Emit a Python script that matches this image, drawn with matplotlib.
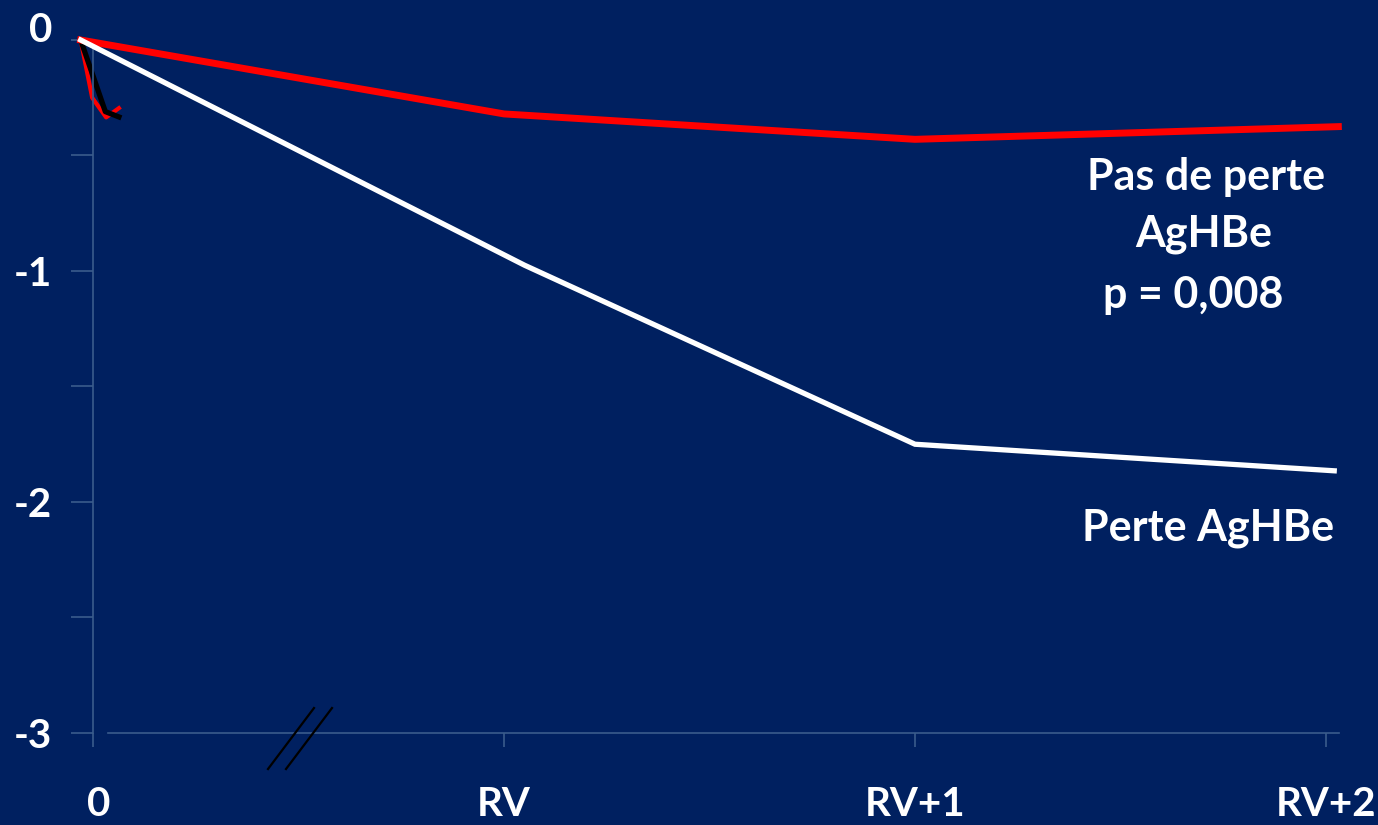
import matplotlib
matplotlib.use("Agg")
import matplotlib.pyplot as plt
from matplotlib.transforms import ScaledTranslation

# ---- data -------------------------------------------------------------
x_tick_pos = [0, 1, 2, 3]
x_tick_labels = ["0", "RV", "RV+1", "RV+2"]
y_major = [0, -1, -2, -3]
y_major_labels = ["0", "-1", "-2", "-3"]
y_minor = [-0.5, -1.5, -2.5]

# no loss of HBeAg (red) and loss of HBeAg (white)
no_loss_x = [-0.03, 1.0, 2.0, 3.03]
no_loss_y = [0.0, -0.32, -0.43, -0.375]
loss_x = [-0.03, 1.05, 2.0, 3.02]
loss_y = [0.0, -0.975, -1.75, -1.865]

# short early segments near the origin
early_black_x = [-0.03, 0.03, 0.063]
early_black_y = [0.0, -0.31, -0.333]
early_red_x = [-0.03, -0.002, 0.032, 0.063]
early_red_y = [0.0, -0.25, -0.335, -0.295]

# ---- style ------------------------------------------------------------
BG = "#002060"
AXIS = "#3A5C8C"
FONT = ["Lato", "DejaVu Sans"]

W, H = 1378, 825
fig = plt.figure(figsize=(W / 100, H / 100), dpi=100)
fig.patch.set_facecolor(BG)

# axes box in pixels: x 60..1350, y 20..760
ax = fig.add_axes([60 / W, (H - 760) / H, 1290 / W, 740 / H])
ax.set_facecolor(BG)
ax.set_xlim(-0.0803, 3.0584)
ax.set_ylim(-3.117, 0.0866)

for s in ("top", "right"):
    ax.spines[s].set_visible(False)
ax.spines["left"].set_position(("data", 0))
ax.spines["left"].set_bounds(-3, 0)
ax.spines["bottom"].set_position(("data", -3))
ax.spines["bottom"].set_bounds(0.0365, 3.0316)
for s in ("left", "bottom"):
    ax.spines[s].set_color(AXIS)
    ax.spines[s].set_linewidth(1.2)

ax.set_yticks(y_major)
ax.set_yticklabels(y_major_labels)
ax.set_yticks(y_minor, minor=True)
ax.set_xticks(x_tick_pos)
ax.set_xticklabels(x_tick_labels)

ax.tick_params(axis="y", which="both", direction="out", length=15.5,
               width=1.2, color=AXIS, pad=14)
ax.tick_params(axis="x", which="both", direction="out", length=10,
               width=1.2, color=AXIS, pad=28)
for lab in ax.get_xticklabels() + ax.get_yticklabels():
    lab.set_fontfamily(FONT)
    lab.set_fontweight("bold")
    lab.set_fontsize(29)
    lab.set_color("white")

# the origin labels sit slightly off their ticks
ylab0 = ax.get_yticklabels()[0]
ylab0.set_transform(ylab0.get_transform()
                    + ScaledTranslation(0, 13 / 100, fig.dpi_scale_trans))
xlab0 = ax.get_xticklabels()[0]
xlab0.set_transform(xlab0.get_transform()
                    + ScaledTranslation(6 / 100, 0, fig.dpi_scale_trans))

# ---- lines ------------------------------------------------------------
ax.plot(no_loss_x, no_loss_y, color="#FF0000", lw=5, solid_joinstyle="miter",
        clip_on=False, zorder=3)
ax.plot(loss_x, loss_y, color="white", lw=3.8, solid_joinstyle="miter",
        clip_on=False, zorder=4)
ax.plot(early_red_x, early_red_y, color="#FF0000", lw=3, clip_on=False, zorder=2)
ax.plot(early_black_x, early_black_y, color="black", lw=3.8, clip_on=False, zorder=2)

# axis break marks
for x0 in (0.4258, 0.4696):
    ax.plot([x0, x0 + 0.1119], [-3.156, -2.892], color="black", lw=1.6,
            clip_on=False, zorder=5)

# ---- annotations ------------------------------------------------------
def label(px, py, s):
    fig.text(px / W, 1 - py / H, s, ha="center", va="baseline",
             color="white", fontsize=31, fontweight="bold", family=FONT)

label(1206, 190, "Pas de perte")
label(1204, 247, "AgHBe")
label(1193, 308, "p = 0,008")
label(1208, 540, "Perte AgHBe")

fig.savefig("out.png", dpi=100, facecolor=BG)
